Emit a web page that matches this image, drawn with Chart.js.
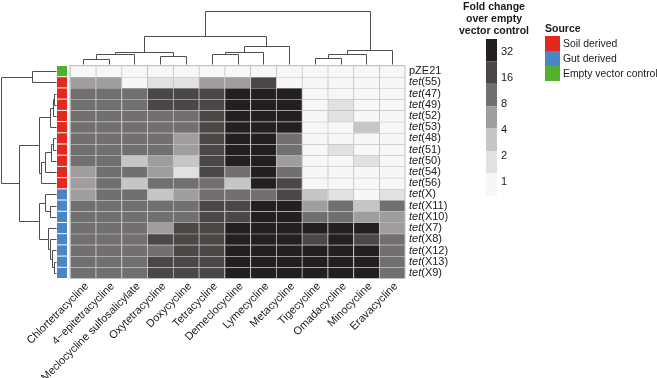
<!DOCTYPE html>
<html>
<head>
<meta charset="utf-8">
<script src="https://cdn.jsdelivr.net/npm/chart.js@4.4.1/dist/chart.umd.min.js"></script>
<style>
  html, body { margin: 0; padding: 0; background: #fff; }
  #wrap { width: 657px; height: 378px; position: relative; }
</style>
</head>
<body>
<div id="wrap"><canvas id="heatmap" width="657" height="378"></canvas></div>
<script>
// colunas (antibioticos) na ordem do dendrograma
const antibioticos = ['Chlortetracycline', '4\u2212epitetracycline', 'Meclocycline sulfosalicylate',
  'Oxytetracycline', 'Doxycycline', 'Tetracycline', 'Demeclocycline', 'Lymecycline',
  'Metacycline', 'Tigecycline', 'Omadacycline', 'Minocycline', 'Eravacycline'];

// linhas (genes)
const genes = ['pZE21', 'tet(55)', 'tet(47)', 'tet(49)', 'tet(52)', 'tet(53)', 'tet(48)', 'tet(51)',
  'tet(50)', 'tet(54)', 'tet(56)', 'tet(X)', 'tet(X11)', 'tet(X10)', 'tet(X7)', 'tet(X8)',
  'tet(X12)', 'tet(X13)', 'tet(X9)'];

const origem = ['vazio', 'solo', 'solo', 'solo', 'solo', 'solo', 'solo', 'solo', 'solo', 'solo', 'solo',
  'intestino', 'intestino', 'intestino', 'intestino', 'intestino', 'intestino', 'intestino', 'intestino'];

// fold change sobre o vetor vazio
const foldChange = [
  [1, 1, 1, 1, 1, 1, 1, 1, 1, 1, 1, 1, 1],
  [8, 8, 1, 2, 2, 8, 8, 32, 1, 1, 1, 1, 1],
  [16, 16, 16, 32, 32, 32, 64, 64, 64, 1, 1, 1, 1],
  [16, 16, 16, 32, 32, 32, 64, 64, 64, 1, 2, 1, 1],
  [16, 16, 16, 16, 16, 32, 64, 64, 64, 1, 2, 1, 1],
  [16, 16, 16, 16, 16, 32, 64, 64, 64, 1, 1, 4, 1],
  [16, 16, 16, 16, 8, 32, 64, 64, 16, 1, 1, 1, 1],
  [16, 16, 16, 16, 8, 32, 64, 64, 16, 1, 2, 1, 1],
  [16, 16, 4, 8, 4, 32, 64, 64, 8, 1, 1, 2, 1],
  [8, 16, 16, 8, 2, 32, 16, 64, 16, 1, 1, 1, 1],
  [8, 16, 4, 16, 16, 16, 4, 64, 32, 1, 1, 1, 1],
  [8, 16, 16, 4, 8, 16, 16, 16, 32, 4, 2, 1, 2],
  [16, 16, 16, 16, 16, 32, 32, 64, 64, 8, 16, 4, 16],
  [16, 16, 16, 16, 16, 32, 32, 64, 64, 16, 16, 8, 8],
  [16, 16, 16, 8, 32, 32, 64, 64, 64, 64, 64, 64, 8],
  [16, 16, 16, 32, 32, 32, 64, 64, 64, 32, 64, 32, 16],
  [16, 16, 16, 16, 32, 32, 64, 64, 64, 64, 64, 64, 16],
  [16, 16, 16, 32, 32, 32, 64, 64, 64, 64, 64, 64, 16],
  [16, 16, 16, 32, 32, 32, 64, 64, 64, 64, 64, 64, 16]
];

// dendrogramas: [a, b, altura]  (negativo = folha, positivo = fusao anterior)
const dendroColunas = [
  [-1, -2, 5], [1, -3, 9.7], [-4, -5, 8.3], [2, 3, 12.3],
  [-6, -7, 9.7], [5, -8, 12.3], [6, -9, 17.7], [4, 7, 28],
  [-10, -11, 5.7], [9, -12, 9.7], [10, -13, 14], [8, 11, 52.7]
];
const dendroLinhas = [
  [-1, -2, 23.5],
  [-3, -4, 1.5], [2, -5, 3], [3, -6, 6],
  [-7, -8, 2.5], [5, -9, 4.5], [6, -10, 11], [7, -11, 15],
  [4, 8, 16.5],
  [-13, -14, 5.5], [-12, 10, 10.5],
  [-18, -19, 1.5], [-17, 12, 3.5], [-16, 13, 5.5], [-15, 14, 8], [11, 15, 16.5],
  [9, 16, 36.2], [1, 17, 54.5]
];

// legenda
const niveis = [64, 32, 16, 8, 4, 2, 1];
const ticksLegenda = [32, 16, 8, 4, 2, 1];
const fontesNomes = ['Soil derived', 'Gut derived', 'Empty vector control'];

const cores = { 1: '#f7f7f7', 2: '#e1e1e1', 4: '#c6c6c6', 8: '#9f9d9d', 16: '#726f6f', 32: '#4b4747', 64: '#231f20' };
const coresOrigem = { solo: '#e2281f', intestino: '#4a86c6', vazio: '#50b22c' };
const FONTE = '"Liberation Sans", Arial, sans-serif';

function corDe(v) {
  return cores[v];
}

const datasets = genes.map((g, k) => ({
  label: g,
  data: antibioticos.map(() => [k, k + 1]),
  backgroundColor: foldChange[k].map(corDe),
  borderColor: '#c0c0c0',
  borderWidth: { top: 1, left: 1, right: 0, bottom: 0 },
  borderSkipped: false,
  categoryPercentage: 1,
  barPercentage: 1,
  grouped: false
}));

function desenhaDendro(ctx, merges, posFolha, desenhaSeg) {
  const nos = [];
  const info = (id) => id < 0 ? { p: posFolha(-id - 1), h: 0 } : nos[id - 1];
  merges.forEach(([a, b, h]) => {
    const A = info(a), B = info(b);
    desenhaSeg(A.p, A.h, A.p, h);
    desenhaSeg(A.p, h, B.p, h);
    desenhaSeg(B.p, h, B.p, B.h);
    nos.push({ p: (A.p + B.p) / 2, h: h });
  });
}

const decoracao = {
  id: 'decoracao',
  afterDraw(chart) {
    const { ctx, chartArea: ca, scales: { x, y } } = chart;
    ctx.save();

    // contorno externo
    ctx.strokeStyle = '#c0c0c0';
    ctx.lineWidth = 1;
    ctx.strokeRect(ca.left, ca.top, ca.right - ca.left, ca.bottom - ca.top);

    // barra lateral de origem
    genes.forEach((g, k) => {
      const t = y.getPixelForValue(k), b = y.getPixelForValue(k + 1);
      ctx.fillStyle = coresOrigem[origem[k]];
      ctx.fillRect(57, t + 0.5, 10, b - t - 1);
    });

    // dendrograma de cima
    ctx.strokeStyle = '#4f4f4f';
    ctx.lineWidth = 1;
    const baseTopo = ca.top - 1.5;
    desenhaDendro(ctx, dendroColunas, (i) => x.getPixelForValue(i), (p1, h1, p2, h2) => {
      ctx.beginPath();
      ctx.moveTo(Math.round(p1) + 0.5, Math.round(baseTopo - h1) + 0.5);
      ctx.lineTo(Math.round(p2) + 0.5, Math.round(baseTopo - h2) + 0.5);
      ctx.stroke();
    });

    // dendrograma da esquerda
    const baseEsq = 55.5;
    desenhaDendro(ctx, dendroLinhas, (k) => y.getPixelForValue(k + 0.5), (p1, h1, p2, h2) => {
      ctx.beginPath();
      ctx.moveTo(Math.round(baseEsq - h1) + 0.5, Math.round(p1) + 0.5);
      ctx.lineTo(Math.round(baseEsq - h2) + 0.5, Math.round(p2) + 0.5);
      ctx.stroke();
    });

    // nomes das linhas (tet em italico)
    ctx.fillStyle = '#1a1a1a';
    ctx.textBaseline = 'middle';
    ctx.textAlign = 'left';
    genes.forEach((g, k) => {
      const yy = y.getPixelForValue(k + 0.5);
      let xx = ca.right + 4;
      if (g.startsWith('tet')) {
        ctx.font = 'italic 11px ' + FONTE;
        ctx.fillText('tet', xx, yy);
        xx += ctx.measureText('tet').width;
        ctx.font = '11px ' + FONTE;
        ctx.fillText(g.slice(3), xx, yy);
      } else {
        ctx.font = '11px ' + FONTE;
        ctx.fillText(g, xx, yy);
      }
    });

    // nomes das colunas, rodados 45 graus
    ctx.font = '11px ' + FONTE;
    ctx.textAlign = 'right';
    antibioticos.forEach((a, i) => {
      ctx.save();
      ctx.translate(x.getPixelForValue(i) + 4, ca.bottom + 6);
      ctx.rotate(-Math.PI / 4);
      ctx.fillText(a, 0, 0);
      ctx.restore();
    });

    // legenda da escala
    ctx.font = 'bold 10.5px ' + FONTE;
    ctx.textAlign = 'center';
    ctx.fillStyle = '#1a1a1a';
    ['Fold change', 'over empty', 'vector control'].forEach((l, i) => ctx.fillText(l, 494, 7 + 12 * i));
    niveis.forEach((v, i) => {
      ctx.fillStyle = cores[v];
      ctx.fillRect(486, 39 + 22.4 * i, 11, 22.4);
    });
    ctx.font = '11px ' + FONTE;
    ctx.textAlign = 'left';
    ctx.fillStyle = '#1a1a1a';
    ticksLegenda.forEach((t, i) => ctx.fillText(String(t), 501, 52 + 26 * i));

    // legenda da origem
    ctx.font = 'bold 10.5px ' + FONTE;
    ctx.fillText('Source', 545, 29);
    ctx.font = '10.4px ' + FONTE;
    ['solo', 'intestino', 'vazio'].forEach((o, i) => {
      ctx.fillStyle = coresOrigem[o];
      ctx.fillRect(545, 36 + 15 * i, 15, 15);
      ctx.fillStyle = '#1a1a1a';
      ctx.fillText(fontesNomes[i], 563, 44 + 15 * i);
    });

    ctx.restore();
  }
};

const ctxHeat = document.getElementById('heatmap').getContext('2d');
const chartHeat = new Chart(ctxHeat, {
  type: 'bar',
  data: { labels: antibioticos, datasets: datasets },
  options: {
    responsive: false,
    animation: false,
    layout: { padding: { left: 70, top: 65.5, right: 252, bottom: 99.5 } },
    plugins: { legend: { display: false }, tooltip: { enabled: false } },
    scales: {
      x: { display: false, offset: true },
      y: { display: false, min: 0, max: 19, reverse: true }
    }
  },
  plugins: [decoracao]
});
</script>
</body>
</html>
